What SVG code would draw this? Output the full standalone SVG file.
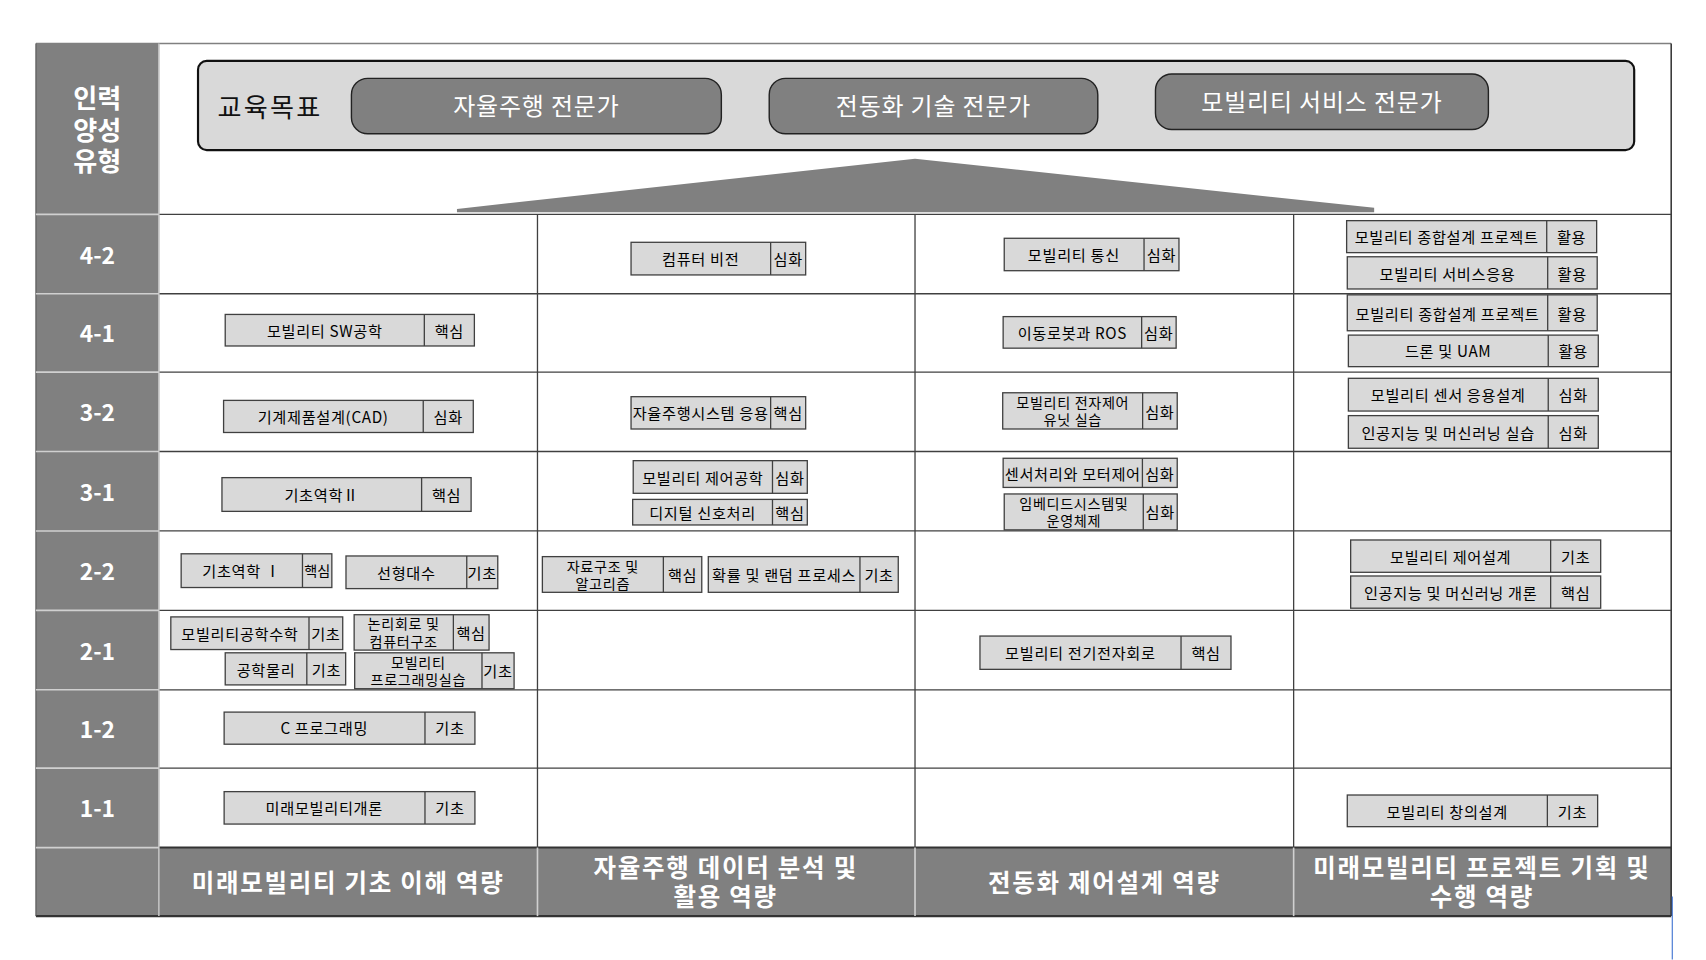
<svg xmlns="http://www.w3.org/2000/svg" width="1706" height="960" viewBox="0 0 1706 960">
<style>
text{font-family:"Noto Sans CJK KR","Noto Sans",sans-serif;dominant-baseline:central;text-anchor:middle}
.cb rect{fill:#d9d9d9;stroke:#404040;stroke-width:1.2}
.cb line{stroke:#404040;stroke-width:1.2}
.cb text{font-size:14px;fill:#000;letter-spacing:0.6px}
.cb text.t2{font-size:13px}
.rl{font-size:21px;font-weight:bold;fill:#fff}
.hd{font-size:22.5px;font-weight:bold;fill:#fff;letter-spacing:1.6px}
.pill rect{fill:#808080;stroke:#222;stroke-width:1.3}
.pill text{font-size:22px;fill:#fff;letter-spacing:0.8px}
.grid{stroke:#404040;stroke-width:1.2}
.sep{stroke:#d0d0d0;stroke-width:1.5}
</style>
<rect width="1706" height="960" fill="#fff"/>
<g transform="scale(1.08801)">
<g id="frame">
<rect x="146" y="40" width="1390" height="739" fill="#fff"/>
<rect x="33" y="40" width="113" height="802" fill="#808080"/>
<rect x="146" y="779" width="1390" height="63" fill="#808080"/>
<line x1="33" y1="40" x2="1536" y2="40" stroke="#808080" stroke-width="1.5"/>
<line x1="1536" y1="40" x2="1536" y2="842" stroke="#222" stroke-width="1.3"/>
<line x1="33" y1="842" x2="1536" y2="842" stroke="#333" stroke-width="2"/>
<line x1="33" y1="40" x2="33" y2="842" stroke="#555" stroke-width="1"/>
</g>
<g id="grid">
<line class="grid" x1="146" y1="197" x2="1536" y2="197" stroke="#111"/>
<line class="grid" x1="146" y1="270" x2="1536" y2="270"/>
<line class="grid" x1="146" y1="342" x2="1536" y2="342"/>
<line class="grid" x1="146" y1="415" x2="1536" y2="415"/>
<line class="grid" x1="146" y1="488" x2="1536" y2="488"/>
<line class="grid" x1="146" y1="561" x2="1536" y2="561"/>
<line class="grid" x1="146" y1="634" x2="1536" y2="634"/>
<line class="grid" x1="146" y1="706" x2="1536" y2="706"/>
<line x1="146" y1="779" x2="1536" y2="779" stroke="#333" stroke-width="1.8"/>
<line class="grid" x1="494" y1="197" x2="494" y2="779" stroke="#111"/>
<line class="grid" x1="841" y1="197" x2="841" y2="779" stroke="#111"/>
<line class="grid" x1="1189" y1="197" x2="1189" y2="779" stroke="#111"/>
<line x1="146" y1="40" x2="146" y2="842" stroke="#bfbfbf" stroke-width="1.5"/>
<line class="sep" x1="33" y1="197" x2="146" y2="197"/>
<line class="sep" x1="33" y1="270" x2="146" y2="270"/>
<line class="sep" x1="33" y1="342" x2="146" y2="342"/>
<line class="sep" x1="33" y1="415" x2="146" y2="415"/>
<line class="sep" x1="33" y1="488" x2="146" y2="488"/>
<line class="sep" x1="33" y1="561" x2="146" y2="561"/>
<line class="sep" x1="33" y1="634" x2="146" y2="634"/>
<line class="sep" x1="33" y1="706" x2="146" y2="706"/>
<line class="sep" x1="33" y1="779" x2="146" y2="779"/>
<line class="sep" x1="494" y1="779" x2="494" y2="842"/>
<line class="sep" x1="841" y1="779" x2="841" y2="842"/>
<line class="sep" x1="1189" y1="779" x2="1189" y2="842"/>
<line x1="1537" y1="824" x2="1537" y2="882" stroke="#3a6fd0" stroke-width="1"/>
</g>
<g id="type-header">
<text class="rl" style="font-size:24px"><tspan x="89.5" y="89">인력</tspan><tspan x="89.5" y="118.5">양성</tspan><tspan x="89.5" y="147.5">유형</tspan></text>
</g>
<g id="row-labels">
<text class="rl" x="89.5" y="233.5">4-2</text>
<text class="rl" x="89.5" y="306">4-1</text>
<text class="rl" x="89.5" y="378.5">3-2</text>
<text class="rl" x="89.5" y="451.5">3-1</text>
<text class="rl" x="89.5" y="524.5">2-2</text>
<text class="rl" x="89.5" y="597.5">2-1</text>
<text class="rl" x="89.5" y="670">1-2</text>
<text class="rl" x="89.5" y="742.5">1-1</text>
</g>
<g id="goals">
<rect x="182" y="56" width="1320" height="82" rx="8" fill="#d9d9d9" stroke="#111" stroke-width="2"/>
<text x="200" y="97" style="font-size:24px;fill:#111;text-anchor:start;letter-spacing:2px">교육목표</text>
<g class="pill" id="goal-autonomous"><rect x="323" y="72" width="340" height="51" rx="15"/><text x="493" y="96.5">자율주행 전문가</text></g>
<g class="pill" id="goal-electrification"><rect x="707" y="72" width="302" height="51" rx="15"/><text x="858" y="96.5">전동화 기술 전문가</text></g>
<g class="pill" id="goal-service"><rect x="1062" y="68" width="306" height="51" rx="15"/><text x="1215" y="92.5">모빌리티 서비스 전문가</text></g>
</g>
<polygon id="arrow-up" points="420,192 841,146 1263,191 1263,195 420,195" fill="#808080"/>
<g id="competencies">
<text class="hd" x="320" y="810">미래모빌리티 기초 이해 역량</text>
<text class="hd"><tspan x="667" y="796">자율주행 데이터 분석 및</tspan><tspan x="667" y="823">활용 역량</tspan></text>
<text class="hd" x="1015" y="810">전동화 제어설계 역량</text>
<text class="hd"><tspan x="1362" y="796">미래모빌리티 프로젝트 기획 및</tspan><tspan x="1362" y="823">수행 역량</tspan></text>
</g>
<g id="courses">
<g class="cb" id="c-sw"><rect x="207" y="289" width="229" height="29"/><line x1="390" y1="289" x2="390" y2="318"/><text x="298.5" y="303">모빌리티 SW공학</text><text x="413" y="303">핵심</text></g>
<g class="cb" id="c-cad"><rect x="205.5" y="368" width="229.5" height="29.5"/><line x1="389" y1="368" x2="389" y2="397.5"/><text x="297" y="382.5">기계제품설계(CAD)</text><text x="412" y="382.5">심화</text></g>
<g class="cb" id="c-mech2"><rect x="204" y="439" width="229" height="31"/><line x1="387.5" y1="439" x2="387.5" y2="470"/><text x="295.7" y="454">기초역학Ⅱ</text><text x="410.5" y="454">핵심</text></g>
<g class="cb" id="c-mech1"><rect x="166.5" y="509" width="138.5" height="31"/><line x1="278" y1="509" x2="278" y2="540"/><text x="222" y="524">기초역학  Ⅰ</text><text x="291.5" y="524" style="font-size:13px;letter-spacing:0">핵심</text></g>
<g class="cb" id="c-linalg"><rect x="318" y="511" width="139.5" height="30"/><line x1="429" y1="511" x2="429" y2="541"/><text x="373.5" y="525.5">선형대수</text><text x="443.2" y="525.5">기초</text></g>
<g class="cb" id="c-math"><rect x="157" y="567" width="158" height="30"/><line x1="284" y1="567" x2="284" y2="597"/><text x="220.5" y="581.5">모빌리티공학수학</text><text x="299.5" y="581.5">기초</text></g>
<g class="cb" id="c-logic"><rect x="325.5" y="565" width="124" height="32.5"/><line x1="416.7" y1="565" x2="416.7" y2="597.5"/><text class="t2"><tspan x="371" y="573">논리회로 및</tspan><tspan x="371" y="589">컴퓨터구조</tspan></text><text x="433" y="580.5">핵심</text></g>
<g class="cb" id="c-physics"><rect x="207" y="600" width="110.7" height="29.5"/><line x1="282" y1="600" x2="282" y2="629.5"/><text x="244.5" y="614.5">공학물리</text><text x="300" y="614.5">기초</text></g>
<g class="cb" id="c-prog"><rect x="326" y="600" width="146.5" height="33"/><line x1="443" y1="600" x2="443" y2="633"/><text class="t2"><tspan x="384.5" y="608">모빌리티</tspan><tspan x="384.5" y="624">프로그래밍실습</tspan></text><text x="457.7" y="615.5">기초</text></g>
<g class="cb" id="c-c"><rect x="206" y="654.5" width="230.5" height="29.5"/><line x1="390.6" y1="654.5" x2="390.6" y2="684"/><text x="298" y="668.5">C 프로그래밍</text><text x="413.5" y="668.5">기초</text></g>
<g class="cb" id="c-intro"><rect x="206" y="727.6" width="230.5" height="29.8"/><line x1="390.6" y1="727.6" x2="390.6" y2="757.4"/><text x="298" y="742">미래모빌리티개론</text><text x="413.5" y="742">기초</text></g>

<g class="cb" id="c-cv"><rect x="580" y="222.7" width="160.5" height="30"/><line x1="708.3" y1="222.7" x2="708.3" y2="252.7"/><text x="644" y="237.5">컴퓨터 비전</text><text x="724.4" y="237.5">심화</text></g>
<g class="cb" id="c-ad"><rect x="580" y="364.6" width="160.5" height="29.7"/><line x1="708.3" y1="364.6" x2="708.3" y2="394.3"/><text x="644" y="379">자율주행시스템 응용</text><text x="724.4" y="379">핵심</text></g>
<g class="cb" id="c-ctrl"><rect x="582" y="423.4" width="160" height="30"/><line x1="710" y1="423.4" x2="710" y2="453.4"/><text x="646" y="438">모빌리티 제어공학</text><text x="726" y="438">심화</text></g>
<g class="cb" id="c-dsp"><rect x="581.5" y="459" width="160.5" height="23.5"/><line x1="710" y1="459" x2="710" y2="482.5"/><text x="645.7" y="470.5">디지털 신호처리</text><text x="726" y="470.5">핵심</text></g>
<g class="cb" id="c-ds"><rect x="498.5" y="511.6" width="146.5" height="32.8"/><line x1="609.7" y1="511.6" x2="609.7" y2="544.4"/><text class="t2"><tspan x="554" y="520">자료구조 및</tspan><tspan x="554" y="536">알고리즘</tspan></text><text x="627.4" y="527.5">핵심</text></g>
<g class="cb" id="c-prob"><rect x="651" y="511.6" width="174.6" height="32.8"/><line x1="790.4" y1="511.6" x2="790.4" y2="544.4"/><text x="720.7" y="527.5">확률 및 랜덤 프로세스</text><text x="808" y="527.5">기초</text></g>

<g class="cb" id="c-comm"><rect x="923" y="219" width="160.6" height="29.8"/><line x1="1051.5" y1="219" x2="1051.5" y2="248.8"/><text x="987" y="233.5">모빌리티 통신</text><text x="1067.5" y="233.5">심화</text></g>
<g class="cb" id="c-ros"><rect x="922" y="291" width="159" height="29"/><line x1="1049.3" y1="291" x2="1049.3" y2="320"/><text x="985.6" y="305.5">이동로봇과 ROS</text><text x="1065" y="305.5">심화</text></g>
<g class="cb" id="c-ecu"><rect x="921.6" y="361" width="160.4" height="33.3"/><line x1="1050.2" y1="361" x2="1050.2" y2="394.3"/><text class="t2"><tspan x="986" y="369.5">모빌리티 전자제어</tspan><tspan x="986" y="385.5">유닛 실습</tspan></text><text x="1066" y="377.5">심화</text></g>
<g class="cb" id="c-motor"><rect x="922" y="421.2" width="160" height="26.8"/><line x1="1050" y1="421.2" x2="1050" y2="448"/><text x="986" y="434.5">센서처리와 모터제어</text><text x="1066" y="434.5">심화</text></g>
<g class="cb" id="c-embedded"><rect x="923" y="454" width="159" height="33"/><line x1="1050.8" y1="454" x2="1050.8" y2="487"/><text class="t2"><tspan x="987" y="462">임베디드시스템및</tspan><tspan x="987" y="478">운영체제</tspan></text><text x="1066.4" y="470">심화</text></g>
<g class="cb" id="c-elec"><rect x="900.7" y="584.6" width="230.7" height="30.6"/><line x1="1085.5" y1="584.6" x2="1085.5" y2="615.2"/><text x="993" y="599.5">모빌리티 전기전자회로</text><text x="1108.5" y="599.5">핵심</text></g>

<g class="cb" id="c-cap1"><rect x="1237.7" y="202.8" width="229.8" height="29.4"/><line x1="1421.6" y1="202.8" x2="1421.6" y2="232.2"/><text x="1329.6" y="217">모빌리티 종합설계 프로젝트</text><text x="1444.5" y="217">활용</text></g>
<g class="cb" id="c-svc"><rect x="1238.3" y="236" width="229.7" height="29.6"/><line x1="1422.5" y1="236" x2="1422.5" y2="265.6"/><text x="1330.4" y="250.5">모빌리티 서비스응용</text><text x="1445" y="250.5">활용</text></g>
<g class="cb" id="c-cap2"><rect x="1238.3" y="271" width="229.7" height="33"/><line x1="1422.5" y1="271" x2="1422.5" y2="304"/><text x="1330.4" y="287.5">모빌리티 종합설계 프로젝트</text><text x="1445" y="287.5">활용</text></g>
<g class="cb" id="c-uam"><rect x="1239.3" y="308" width="229.7" height="29"/><line x1="1423" y1="308" x2="1423" y2="337"/><text x="1331" y="322">드론 및 UAM</text><text x="1446" y="322">활용</text></g>
<g class="cb" id="c-sensapp"><rect x="1239.3" y="347.7" width="229.7" height="30.1"/><line x1="1423" y1="347.7" x2="1423" y2="377.8"/><text x="1331" y="362.5">모빌리티 센서 응용설계</text><text x="1446" y="362.5">심화</text></g>
<g class="cb" id="c-mlprac"><rect x="1239.3" y="382" width="229.7" height="30"/><line x1="1423" y1="382" x2="1423" y2="412"/><text x="1331" y="397">인공지능 및 머신러닝 실습</text><text x="1446" y="397">심화</text></g>
<g class="cb" id="c-ctrldes"><rect x="1241.4" y="496.3" width="229.8" height="29.7"/><line x1="1425.2" y1="496.3" x2="1425.2" y2="526"/><text x="1333.3" y="511">모빌리티 제어설계</text><text x="1448.2" y="511">기초</text></g>
<g class="cb" id="c-mlintro"><rect x="1241.4" y="529.4" width="229.8" height="29.6"/><line x1="1425.2" y1="529.4" x2="1425.2" y2="559"/><text x="1333.3" y="544">인공지능 및 머신러닝 개론</text><text x="1448.2" y="544">핵심</text></g>
<g class="cb" id="c-creative"><rect x="1238.3" y="730.7" width="230.1" height="29.1"/><line x1="1422.2" y1="730.7" x2="1422.2" y2="759.8"/><text x="1330.2" y="745">모빌리티 창의설계</text><text x="1445.3" y="745">기초</text></g>
</g>
</g>
</svg>
